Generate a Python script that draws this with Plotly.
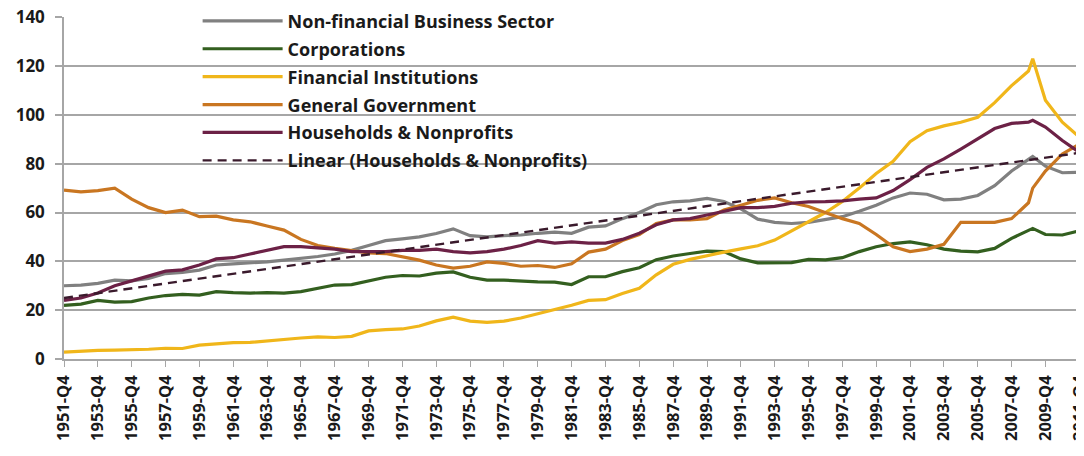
import plotly.graph_objects as go

# ---------------- data ----------------
quarters = (
    [f"{y}-Q4" for y in range(1951, 2009)]
    + ["2009-Q1", "2009-Q4", "2010-Q4", "2011-Q4", "2012-Q1"]
)

nonfin_business = [
    30.0, 30.3, 31.0, 32.3, 32.0, 33.0, 35.0, 35.5, 36.4, 38.5,
    39.0, 39.3, 39.8, 40.5, 41.2, 42.0, 43.0, 44.5, 46.5, 48.5,
    49.2, 50.0, 51.4, 53.3, 50.5, 50.0, 50.5, 50.8, 51.5, 52.0,
    51.5, 54.0, 54.5, 57.5, 60.0, 63.2, 64.4, 64.8, 65.8, 64.5,
    61.5, 57.3, 56.0, 55.5, 56.0, 57.0, 58.3, 60.5, 63.0, 66.0,
    68.0, 67.5, 65.2, 65.5, 67.0, 71.0, 77.0, 81.8,
    83.0, 79.0, 76.3, 76.5, 76.7,
]
corporations = [
    22.0, 22.5, 24.0, 23.3, 23.5, 25.0, 26.0, 26.5, 26.2, 27.6,
    27.2, 27.0, 27.2, 27.0, 27.6, 29.0, 30.3, 30.5, 32.0, 33.5,
    34.2, 34.0, 35.2, 35.7, 33.5, 32.3, 32.3, 31.8, 31.6, 31.5,
    30.5, 33.7, 33.7, 35.8, 37.4, 40.7, 42.2, 43.2, 44.2, 44.0,
    41.0, 39.4, 39.3, 39.5, 40.8, 40.6, 41.5, 44.0, 46.0, 47.3,
    48.0, 46.8, 45.0, 44.2, 43.9, 45.3, 49.4, 52.8,
    53.5, 51.0, 50.8, 52.5, 53.0,
]
financial_institutions = [
    2.8, 3.2, 3.5, 3.6, 3.7, 4.0, 4.4, 4.3, 5.7, 6.2,
    6.7, 6.8, 7.5, 8.0, 8.6, 9.1, 8.8, 9.3, 11.5, 12.0,
    12.3, 13.5, 15.6, 17.1, 15.5, 15.0, 15.5, 16.8, 18.5, 20.4,
    22.0, 24.0, 24.3, 26.8, 29.0, 34.5, 38.8, 40.8, 42.4, 43.8,
    45.1, 46.4, 48.7, 52.5, 56.5, 60.0, 64.5, 70.0, 76.0, 81.0,
    89.0, 93.5, 95.5, 97.0, 99.0, 105.0, 112.0, 118.0,
    123.0, 106.0, 97.0, 91.0, 88.5,
]
general_government = [
    69.2, 68.5, 69.0, 70.0, 65.5, 62.0, 60.0, 61.0, 58.3, 58.5,
    57.0, 56.2, 54.5, 52.8, 49.0, 46.5, 45.3, 44.5, 43.5, 43.2,
    41.9, 40.5, 38.5, 37.2, 38.0, 39.8, 39.2, 38.0, 38.3, 37.5,
    39.0, 43.8, 45.0, 48.5, 51.0, 55.5, 57.0, 57.0, 57.5, 61.0,
    63.0, 65.0, 66.0, 64.0, 62.5, 60.0, 57.5, 55.5, 51.0, 46.0,
    44.0, 45.0, 47.0, 56.0, 56.0, 56.0, 57.5, 64.0,
    70.0, 77.0, 84.0, 88.0, 89.5,
]
households = [
    24.0, 25.0, 27.0, 30.0, 32.0, 34.0, 36.0, 36.5, 38.5, 41.0,
    41.5, 43.0, 44.5, 46.0, 46.0, 45.5, 45.0, 44.0, 44.0, 44.0,
    44.5, 44.5, 45.0, 44.0, 43.5, 44.0, 45.0, 46.5, 48.5, 47.5,
    48.0, 47.5, 47.5, 49.0, 51.5, 55.0, 57.0, 57.5, 59.0, 60.5,
    62.0, 62.0, 62.5, 63.8, 64.4, 64.5, 64.8, 65.5, 66.0, 69.0,
    73.5, 78.5, 82.0, 86.0, 90.3, 94.4, 96.5, 97.0,
    97.8, 95.0, 89.5, 85.0, 83.5,
]
trend_quarters = ["1951-Q4", "2012-Q1"]
trend_households = [25.0, 84.7]

tick_labels = [f"{y}-Q4" for y in range(1951, 2012, 2)]

series_names = [
    "Non-financial Business Sector",
    "Corporations",
    "Financial Institutions",
    "General Government",
    "Households & Nonprofits",
]
series_values = [nonfin_business, corporations, financial_institutions,
                 general_government, households]
series_colors = ["#808080", "#335f1f", "#f0b61a", "#c97621", "#6c2146"]


def qpos(label):
    year, q = label.split("-Q")
    return int(year) + (int(q) - 1) / 4.0


xs = [qpos(q) for q in quarters]

fig = go.Figure()
for name, vals, col in zip(series_names, series_values, series_colors):
    fig.add_trace(go.Scatter(
        x=xs, y=vals, mode="lines", name=name,
        line=dict(color=col, width=3.2),
        legendgroup=name,
    ))
fig.add_trace(go.Scatter(
    x=[qpos(q) for q in trend_quarters], y=trend_households, mode="lines",
    name="Linear (Households & Nonprofits)",
    line=dict(color="#3a1a2c", width=2.4, dash="9px,6px"),
    legendgroup="trend",
))

axis_gray = "#a6a6a6"
fig.update_layout(
    width=1076, height=448,
    margin=dict(l=56, r=0, t=9, b=97, autoexpand=False),
    paper_bgcolor="white", plot_bgcolor="white",
    font=dict(family="'Open Sans', Lato, sans-serif", color="#1a1a1a"),
    showlegend=True,
    legend=dict(
        x=0.131, y=1.042, xanchor="left", yanchor="top",
        bgcolor="rgba(0,0,0,0)",
        font=dict(size=18, weight="bold", color="#1a1a1a"),
        itemwidth=80, tracegroupgap=1.5,
    ),
    xaxis=dict(
        range=[qpos("1951-Q4"), 2012.03],
        tickvals=[qpos(t) for t in tick_labels], ticktext=tick_labels,
        tickangle=-90, showgrid=False, zeroline=False,
        showline=True, linecolor=axis_gray, linewidth=1.5,
        ticks="outside", ticklen=6, tickcolor=axis_gray, tickwidth=1.2,
        ticklabelstandoff=2, ticklabeloverflow="allow",
        tickfont=dict(size=16.5, weight="bold", color="#1a1a1a"),
        automargin=False,
    ),
    yaxis=dict(
        range=[0, 140.1], tickvals=[0, 20, 40, 60, 80, 100, 120, 140],
        zeroline=False,
        showgrid=True, gridcolor=axis_gray, gridwidth=1.6,
        showline=True, linecolor=axis_gray, linewidth=1.5,
        ticks="outside", ticklen=7, tickcolor=axis_gray, tickwidth=1.6,
        ticklabelstandoff=7, ticklabeloverflow="allow",
        tickfont=dict(size=17, weight="bold", color="#1a1a1a"),
        automargin=False,
    ),
)

fig.write_html("out.html")
